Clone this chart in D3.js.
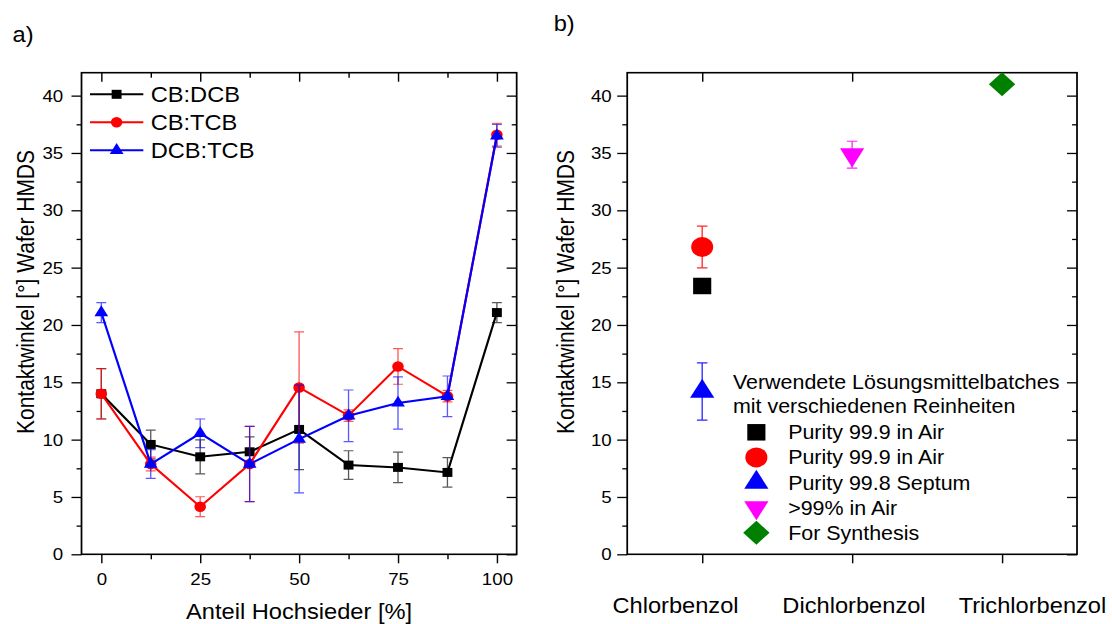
<!DOCTYPE html>
<html>
<head>
<meta charset="utf-8">
<script src="https://cdn.jsdelivr.net/npm/d3@7"></script>
<style>
  html, body { margin: 0; padding: 0; background: #fff; overflow: hidden; }
  svg { display: block; font-family: "Liberation Sans", Arial, sans-serif; }
</style>
</head>
<body>
<svg id="chart"></svg>
<script>
// panel a: contact angle vs share of high boiler
const anteil = [0, 12.5, 25, 37.5, 50, 62.5, 75, 87.5, 100];
const cbDcb = [14.0, 9.58, 8.5, 8.94, 10.89, 7.78, 7.58, 7.14, 21.08];
const cbDcbErr = [2.2, 1.25, 1.48, 1.3, 3.5, 1.25, 1.33, 1.29, 0.87];
const cbTcb = [14.0, 7.87, 4.15, 7.87, 14.55, 12.1, 16.38, 13.79, 36.59];
const cbTcbErr = [2.19, 0.6, 0.87, 3.28, 4.85, 0.5, 1.55, 0.5, 1.0];
const dcbTcb = [21.08, 7.87, 10.55, 7.87, 10.05, 12.08, 13.2, 13.78, 36.5];
const dcbTcbErr = [0.87, 1.25, 1.25, 3.28, 4.7, 2.25, 2.28, 1.77, 1.0];

const xTicksA = [0, 25, 50, 75, 100];
const xMinorA = [12.5, 37.5, 62.5, 87.5];
const yTicks = [0, 5, 10, 15, 20, 25, 30, 35, 40];
const yMinor = [2.5, 7.5, 12.5, 17.5, 22.5, 27.5, 32.5, 37.5];

// panel b: solvent batches
const loesungsmittel = ["Chlorbenzol", "Dichlorbenzol", "Trichlorbenzol"];
const batchNames = ["Purity 99.9 in Air", "Purity 99.9 in Air", "Purity 99.8 Septum", ">99% in Air", "For Synthesis"];
const batchSolvent = [0, 0, 0, 1, 2];
const batchValues = [23.4, 26.8, 14.2, 34.85, 41.0];
const batchErr = [0, 1.82, 2.5, 1.17, 0];

const seriesA = [
  { name: "CB:DCB", values: cbDcb, err: cbDcbErr, color: "#000000", shape: "square", size: 9 },
  { name: "CB:TCB", values: cbTcb, err: cbTcbErr, color: "#ff0000", shape: "circle", size: 10.5 },
  { name: "DCB:TCB", values: dcbTcb, err: dcbTcbErr, color: "#0000ff", shape: "triangle", size: 12.5 }
];
const batchStyle = [
  { color: "#000000", shape: "square", size: 16.5 },
  { color: "#ff0000", shape: "circle", size: 20 },
  { color: "#0000ff", shape: "triangle", size: 22 },
  { color: "#ff00ff", shape: "triangleDown", size: 22 },
  { color: "#008000", shape: "diamond", size: 24 }
];

// the reference is a bit stretched sideways, so the svg is too
const SX = 1.1;
const W = 1112 / SX, H = 624;

const svg = d3.select("#chart")
  .attr("width", 1112)
  .attr("height", H)
  .attr("viewBox", `0 0 ${W} ${H}`)
  .attr("preserveAspectRatio", "none");

function markerPath(shape, s) {
  const h = s / 2;
  const t = s * Math.sqrt(3) / 2;
  if (shape === "square") return `M${-h},${-h}H${h}V${h}H${-h}Z`;
  if (shape === "circle") { const p = d3.path(); p.arc(0, 0, h, 0, 2 * Math.PI); return p.toString(); }
  if (shape === "triangle") return `M0,${-2 * t / 3}L${h},${t / 3}L${-h},${t / 3}Z`;
  if (shape === "triangleDown") return `M0,${2 * t / 3}L${h},${-t / 3}L${-h},${-t / 3}Z`;
  return `M0,${-h}L${h},0L0,${h}L${-h},0Z`;
}

function styleAxis(sel) {
  sel.attr("font-family", null).attr("font-size", null);
  sel.select(".domain").remove();
  sel.selectAll(".tick line").attr("stroke", "#000").attr("stroke-width", 1.3);
  sel.selectAll(".tick text").attr("fill", "#000");
}

// ticks on all four sides, majors + minors like Origin does
function drawFrame(g, x, y, o) {
  const [x0, x1] = x.range();
  const [y0, y1] = y.range();

  g.append("g").attr("transform", `translate(${x0},0)`)
    .call(d3.axisLeft(y).tickValues(yTicks).tickSize(9.1).tickPadding(o.yPad).tickSizeOuter(0))
    .call(styleAxis)
    .selectAll("text").style("font-size", "17px");
  g.append("g").attr("transform", `translate(${x0},0)`)
    .call(d3.axisLeft(y).tickValues(yMinor).tickSize(4.5).tickFormat("").tickSizeOuter(0))
    .call(styleAxis);
  g.append("g").attr("transform", `translate(${x1},0)`)
    .call(d3.axisRight(y).tickValues(yTicks).tickSize(-9.1).tickFormat("").tickSizeOuter(0))
    .call(styleAxis);
  g.append("g").attr("transform", `translate(${x1},0)`)
    .call(d3.axisRight(y).tickValues(yMinor).tickSize(-4.5).tickFormat("").tickSizeOuter(0))
    .call(styleAxis);

  g.append("g").attr("transform", `translate(0,${y0})`)
    .call(d3.axisBottom(x).tickValues(o.xTicks).tickSize(9).tickPadding(o.xPad)
      .tickFormat(o.xFormat).tickSizeOuter(0))
    .call(styleAxis)
    .selectAll("text").style("font-size", o.xFont);
  g.append("g").attr("transform", `translate(0,${y1})`)
    .call(d3.axisTop(x).tickValues(o.xTicks).tickSize(-9).tickFormat("").tickSizeOuter(0))
    .call(styleAxis);
  if (o.xMinor) {
    g.append("g").attr("transform", `translate(0,${y0})`)
      .call(d3.axisBottom(x).tickValues(o.xMinor).tickSize(5).tickFormat("").tickSizeOuter(0))
      .call(styleAxis);
    g.append("g").attr("transform", `translate(0,${y1})`)
      .call(d3.axisTop(x).tickValues(o.xMinor).tickSize(-5).tickFormat("").tickSizeOuter(0))
      .call(styleAxis);
  }

  g.append("rect")
    .attr("x", x0).attr("y", y1)
    .attr("width", x1 - x0).attr("height", y0 - y1)
    .attr("fill", "none").attr("stroke", "#000").attr("stroke-width", 1.6);
}

function errorBars(g, pts, color, cap, opacity) {
  const e = g.append("g")
    .attr("stroke", color).attr("stroke-width", 1.2).attr("stroke-opacity", opacity).attr("fill", "none");
  pts.filter(d => d.err > 0).forEach(d => {
    e.append("path").attr("d",
      `M${d.x},${d.yHi}V${d.yLo}M${d.x - cap},${d.yHi}H${d.x + cap}M${d.x - cap},${d.yLo}H${d.x + cap}`);
  });
}

// ---------- panel a ----------
const xA = d3.scaleLinear().domain([-5, 105]).range([74.1, 469.7]);
const yA = d3.scaleLinear().domain([0, 42]).range([554.3, 72.7]);
const gA = svg.append("g");

drawFrame(gA, xA, yA, {
  yPad: 7.5, xTicks: xTicksA, xMinor: xMinorA, xPad: 10, xFormat: d3.format("d"), xFont: "17px"
});

const line = d3.line().x(d => d.x).y(d => d.y);

seriesA.forEach(s => {
  const pts = anteil.map((a, i) => ({
    x: xA(a), y: yA(s.values[i]), err: s.err[i],
    yHi: yA(s.values[i] + s.err[i]), yLo: yA(s.values[i] - s.err[i])
  }));
  gA.append("path").datum(pts)
    .attr("d", line).attr("fill", "none").attr("stroke", s.color).attr("stroke-width", 2);
  errorBars(gA, pts, s.color, 4.5, 0.65);
  gA.append("g").selectAll("path").data(pts).join("path")
    .attr("transform", d => `translate(${d.x},${d.y})`)
    .attr("d", markerPath(s.shape, s.size))
    .attr("fill", s.color);
});

// legend a
const legA = gA.append("g");
seriesA.forEach((s, i) => {
  const cy = 94.3 + i * 28;
  legA.append("line").attr("x1", 81.8).attr("x2", 130.3).attr("y1", cy).attr("y2", cy)
    .attr("stroke", s.color).attr("stroke-width", 2);
  legA.append("path").attr("transform", `translate(106,${cy})`)
    .attr("d", markerPath(s.shape, s.size)).attr("fill", s.color);
  legA.append("text").attr("x", 137).attr("y", cy).attr("dy", "0.36em")
    .style("font-size", "21.5px").text(s.name);
});

gA.append("text")
  .attr("transform", `translate(23.6,292) rotate(-90)`)
  .attr("text-anchor", "middle").attr("dy", "0.36em")
  .style("font-size", "21px")
  .text("Kontaktwinkel [°] Wafer HMDS");
gA.append("text")
  .attr("x", (xA.range()[0] + xA.range()[1]) / 2).attr("y", 619)
  .attr("text-anchor", "middle").style("font-size", "21.5px")
  .text("Anteil Hochsieder [%]");
gA.append("text").attr("x", 11.4).attr("y", 42).style("font-size", "21.5px").text("a)");

// ---------- panel b ----------
const xB = d3.scaleLinear().domain([-0.5, 2.5]).range([570.2, 979.1]);
const yB = d3.scaleLinear().domain([0, 42]).range([554.3, 72.7]);
const gB = svg.append("g");

drawFrame(gB, xB, yB, {
  yPad: 5, xTicks: [0, 1, 2], xMinor: null, xPad: 33, xFormat: "", xFont: "21.5px"
});

// category labels sit wider apart than the ticks in the original
const labelB = d3.scalePoint().domain(loesungsmittel).range([614.1, 938.6]);
gB.append("g").selectAll("text").data(loesungsmittel).join("text")
  .attr("x", d => labelB(d)).attr("y", 605).attr("dy", "0.36em")
  .attr("text-anchor", "middle").style("font-size", "21.5px")
  .text(d => d);

const ptsB = batchValues.map((v, i) => ({
  x: xB(batchSolvent[i]), y: yB(v), err: batchErr[i],
  yHi: yB(v + batchErr[i]), yLo: yB(v - batchErr[i]), st: batchStyle[i]
}));
ptsB.forEach(d => errorBars(gB, [d], d.st.color, 4.8, 0.85));
gB.append("g").selectAll("path").data(ptsB).join("path")
  .attr("transform", d => `translate(${d.x},${d.y})`)
  .attr("d", d => markerPath(d.st.shape, d.st.size))
  .attr("fill", d => d.st.color);

// legend b
const legB = gB.append("g").style("font-size", "19.5px");
legB.append("text").attr("x", 666.3).attr("y", 381.5).attr("dy", "0.36em").text("Verwendete Lösungsmittelbatches");
legB.append("text").attr("x", 666.3).attr("y", 406.4).attr("dy", "0.36em").text("mit verschiedenen Reinheiten");
batchNames.forEach((n, i) => {
  const cy = 432.3 + i * 25.1;
  const st = batchStyle[i];
  legB.append("path").attr("transform", `translate(687.6,${cy})`)
    .attr("d", markerPath(st.shape, st.size)).attr("fill", st.color);
  legB.append("text").attr("x", 716.5).attr("y", cy).attr("dy", "0.36em").text(n);
});

gB.append("text")
  .attr("transform", `translate(514.5,292) rotate(-90)`)
  .attr("text-anchor", "middle").attr("dy", "0.36em")
  .style("font-size", "21px")
  .text("Kontaktwinkel [°] Wafer HMDS");
gB.append("text").attr("x", 503.3).attr("y", 31).style("font-size", "21.5px").text("b)");
</script>
</body>
</html>
